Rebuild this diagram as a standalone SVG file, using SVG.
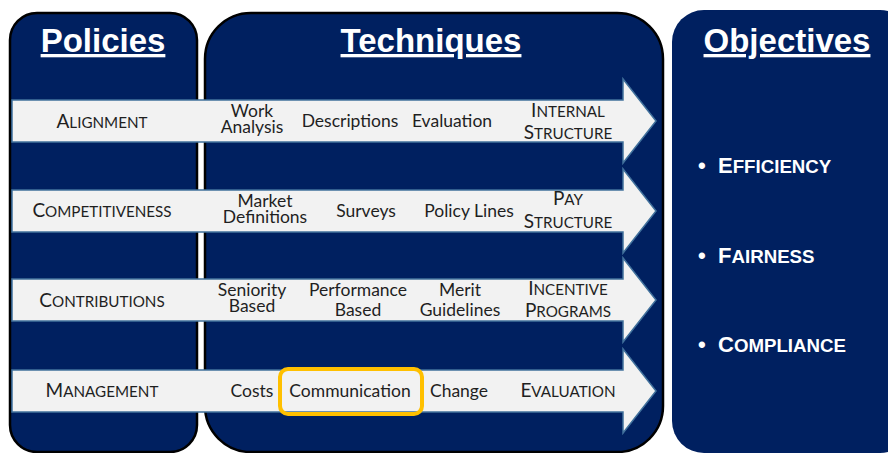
<svg xmlns="http://www.w3.org/2000/svg" width="888" height="453" viewBox="0 0 888 453">
  <defs>
    <style>
      .panel { fill: #002060; stroke: #000; stroke-width: 2.5; }
      .panel-open { fill: #002060; }
      .hdr { font-family: "Liberation Sans", Arial, sans-serif; font-weight: bold; font-size: 33px; fill: #fff; text-anchor: middle; text-decoration: underline; }
      .arrow { fill: #f2f2f2; stroke: #41719c; stroke-width: 1.5; }
      .t { font-family: Lato, "Liberation Sans", sans-serif; font-size: 17.5px; fill: #1f1f1f; text-anchor: middle; }
      .cap { font-size: 19px; }
      .s { font-size: 15.2px; }
      .obj { font-family: "Liberation Sans", Arial, sans-serif; font-weight: bold; font-size: 22px; fill: #fff; }
      .obj .s { font-size: 18.7px; }
      .focus { fill: none; stroke: #ffc000; stroke-width: 4; }
    </style>
  </defs>

  <rect width="888" height="453" fill="#fff"/>

  <!-- Column panels -->
  <g id="policies">
    <rect class="panel" x="10" y="13" width="187" height="439" rx="27" ry="27"/>
    <text class="hdr" x="103" y="52">Policies</text>
  </g>
  <g id="techniques">
    <rect class="panel" x="205" y="13" width="458" height="439" rx="46" ry="46"/>
    <text class="hdr" x="431" y="52">Techniques</text>
  </g>
  <g id="objectives">
    <rect class="panel-open" x="672" y="10" width="240" height="443" rx="32" ry="32"/>
    <text class="hdr" x="787" y="52">Objectives</text>
    <text class="obj" x="698" y="173">•<tspan x="718">E</tspan><tspan class="s">FFICIENCY</tspan></text>
    <text class="obj" x="698" y="263">•<tspan x="718">F</tspan><tspan class="s">AIRNESS</tspan></text>
    <text class="obj" x="698" y="352">•<tspan x="718">C</tspan><tspan class="s">OMPLIANCE</tspan></text>
  </g>

  <!-- Policy rows: block arrows running from policy to objectives -->
  <g id="arrows">
    <g id="row-alignment">
      <path class="arrow" d="M12,100 H623 V79 L656,121 L623,163 V142 H12 Z"/>
      <text class="t" x="102" y="128"><tspan class="cap">A</tspan><tspan class="s">LIGNMENT</tspan></text>
      <text class="t" x="252" y="117">Work<tspan x="252" dy="15.5">Analysis</tspan></text>
      <text class="t" x="350" y="127">Descriptions</text>
      <text class="t" x="452" y="127">Evaluation</text>
      <text class="t" x="568" y="117"><tspan class="cap">I</tspan><tspan class="s">NTERNAL</tspan><tspan x="568" dy="22" class="cap">S</tspan><tspan class="s">TRUCTURE</tspan></text>
    </g>
    <g id="row-competitiveness">
      <path class="arrow" d="M12,190 H623 V169 L656,211 L623,253 V232 H12 Z"/>
      <text class="t" x="102" y="217"><tspan class="cap">C</tspan><tspan class="s">OMPETITIVENESS</tspan></text>
      <text class="t" x="265" y="207">Market<tspan x="265" dy="16">Definitions</tspan></text>
      <text class="t" x="366" y="217">Surveys</text>
      <text class="t" x="469" y="217">Policy Lines</text>
      <text class="t" x="568" y="205"><tspan class="cap">P</tspan><tspan class="s">AY</tspan><tspan x="568" dy="23" class="cap">S</tspan><tspan class="s">TRUCTURE</tspan></text>
    </g>
    <g id="row-contributions">
      <path class="arrow" d="M12,279 H623 V258 L656,300 L623,342 V321 H12 Z"/>
      <text class="t" x="102" y="307"><tspan class="cap">C</tspan><tspan class="s">ONTRIBUTIONS</tspan></text>
      <text class="t" x="252" y="296">Seniority<tspan x="252" dy="16">Based</tspan></text>
      <text class="t" x="358" y="296">Performance<tspan x="358" dy="20">Based</tspan></text>
      <text class="t" x="460" y="296">Merit<tspan x="460" dy="20">Guidelines</tspan></text>
      <text class="t" x="568" y="295"><tspan class="cap">I</tspan><tspan class="s">NCENTIVE</tspan><tspan x="568" dy="22" class="cap">P</tspan><tspan class="s">ROGRAMS</tspan></text>
    </g>
    <g id="row-management">
      <path class="arrow" d="M12,370 H623 V349 L656,391 L623,433 V412 H12 Z"/>
      <text class="t" x="102" y="397"><tspan class="cap">M</tspan><tspan class="s">ANAGEMENT</tspan></text>
      <text class="t" x="252" y="397">Costs</text>
      <text class="t" x="350" y="397">Communication</text>
      <rect class="focus" x="280" y="369" width="142" height="45" rx="8" ry="8"/>
      <text class="t" x="459" y="397">Change</text>
      <text class="t" x="568" y="397"><tspan class="cap">E</tspan><tspan class="s">VALUATION</tspan></text>
    </g>
  </g>
</svg>
